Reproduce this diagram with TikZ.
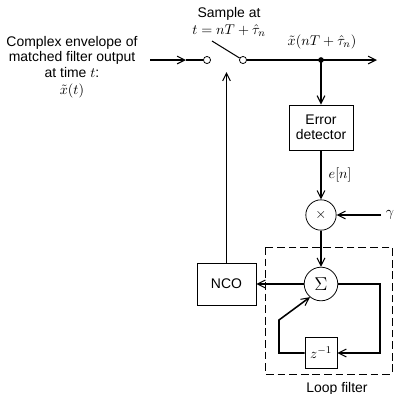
\documentclass[tikz,border=0pt]{standalone}
\usepackage{fontspec}
\setmainfont{Liberation Sans}
\usetikzlibrary{arrows.meta, positioning}

\begin{document}
\begin{tikzpicture}[x=0.774pt, y=-0.774pt,
    every node/.style={font=\fontsize{10.8}{12}\selectfont},
    blk/.style={draw, line width=0.6pt, align=center, inner sep=1pt},
    op/.style={draw, circle, line width=0.6pt, inner sep=0pt},
    term/.style={draw, circle, line width=0.6pt, fill=white, minimum size=5.5pt, inner sep=0pt},
    sig/.style={line width=1.2pt},
    tip/.style={sig, -{Straight Barb[length=6pt, width=6pt, line width=0.8pt]}}]
    \useasboundingbox (0,0) rectangle (394,394);

    % input and sampler
    \node (intext) at (72,67) [align=center] {Complex envelope of\\matched filter output\\at time $t$:\\[1pt]$\tilde{x}(t)$};
    \coordinate (inA) at (150,60);
    \coordinate (inT) at (186,60);
    \node[term] (swl) at (207,60) {};
    \node[term] (swr) at (243,60) {};
    \coordinate (blade) at (212,41);
    \node (smp) at (229,22) [align=center] {Sample at\\[1pt]$t = nT + \hat{\tau}_n$};
    \draw[tip] (inA) -- (inT);
    \draw[sig] (inT) -- (swl);
    \draw[line width=0.8pt] (blade) -- (swr.150);

    % output
    \coordinate (tap) at (321,60);
    \coordinate (outE) at (377,60);
    \fill (tap) circle (2.2pt);
    \node (outlbl) at (322,42) {$\tilde{x}(nT + \hat{\tau}_n)$};
    \draw[tip] (swr) -- (outE);

    % error detector and gain
    \node[blk, minimum width=49.5pt, minimum height=35pt] (err) at (321,127.5) {Error\\detector};
    \node[op, minimum size=23.5pt] (mul) at (321,215) {$\times$};
    \node (gam) at (390,215) {$\gamma$};
    \coordinate (gamE) at (381,215);
    \draw[tip] (tap) -- (err);
    \draw[tip] (err) -- (mul) node[pos=0.5, right=2pt] {$e[n]$};
    \draw[tip] (gamE) -- (mul);

    % loop filter
    \node[op, minimum size=26pt, font=\Large] (sum) at (321,284) {$\Sigma$};
    \node[blk, minimum width=24.8pt, minimum height=24pt] (dly) at (321,353) {$z^{-1}$};
    \draw[tip] (mul) -- (sum);
    \draw[tip] (sum.east) -- (380,284) -- (380,353) -- (dly);
    \draw[tip] (dly.west) -- (279,353) -- (279,320) -- (sum.230);
    \draw[line width=0.7pt, dash pattern=on 6pt off 3pt] (265,247) rectangle (392,374);
    \node (lflbl) at (337,389) {Loop filter};

    % NCO
    \node[blk, minimum width=45.7pt, minimum height=32.5pt] (nco) at (226.5,284) {NCO};
    \coordinate (swT) at (226.5,72);
    \draw[tip] (sum) -- (nco);
    \draw[tip] (nco) -- (swT);
\end{tikzpicture}
\end{document}
